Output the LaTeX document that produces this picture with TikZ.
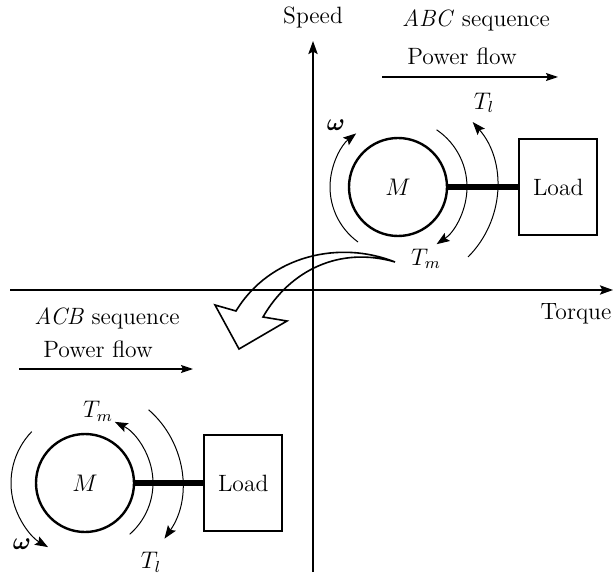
\documentclass[tikz,border=0pt]{standalone}
\usepackage{amsmath,amssymb}
\usepackage{xcolor}
\usepackage{tikz}
\usetikzlibrary{arrows.meta, positioning}

\begin{document}
\begin{tikzpicture}[
      x=0.5pt, y=-0.5pt,
      font=\fontsize{11.8}{14}\selectfont,
      motor/.style={draw, circle, line width=1.2pt, minimum size=49pt, inner sep=0pt},
      loadbox/.style={draw, line width=1pt, minimum width=39pt, minimum height=48pt, inner sep=0pt},
      axis/.style={line width=1pt, -{Stealth[length=6.5pt, width=4.6pt, inset=1.2pt]}},
      flow/.style={line width=0.6pt, -{Stealth[length=6pt, width=4pt, inset=1pt]}},
      turn/.style={line width=0.5pt, -{Stealth[length=6.5pt, width=4.8pt, inset=1.2pt]}},
      shaft/.style={line width=2.6pt},
      bigarrow/.style={line width=0.8pt, line join=miter}
    ]
    \useasboundingbox (0,0) rectangle (614,582);

    % axes
    \coordinate (ybot) at (313,572);
    \coordinate (ytop) at (313,41);
    \coordinate (xleft) at (10,290);
    \coordinate (xright) at (613,290);
    \draw[axis] (ybot) -- (ytop);
    \draw[axis] (xleft) -- (xright);
    \node (speed) at (313,17) {Speed};
    \node (torque) at (576,314) {Torque};

    % ABC sequence (upper right)
    \node (abc) at (476,20) {\textit{ABC} sequence};
    \node (pf1) at (462,56) {Power flow};
    \coordinate (pf1a) at (382,77);
    \coordinate (pf1b) at (558,77);
    \draw[flow] (pf1a) -- (pf1b);
    \node[motor] (m1) at (398,187) {$M$};
    \node[loadbox, right=35pt of m1] (load1) {Load};
    \draw[shaft] (m1) -- (load1);
    \draw[turn] (m1.center) ++(234:34pt) arc[start angle=234, end angle=128, radius=34pt];
    \draw[turn] (m1.center) ++(56:34.5pt) arc[start angle=56, end angle=-56, radius=34.5pt];
    \draw[turn] (m1.center) ++(-45:49.5pt) arc[start angle=-45, end angle=41, radius=49.5pt];
    \node (w1) at (336,125) {$\boldsymbol{\omega}$};
    \node (tl1) at (484,103) {$T_l$};
    \node (tm1) at (426,259) {$T_m$};

    % ACB sequence (lower left)
    \node (acb) at (107,318) {\textit{ACB} sequence};
    \node (pf2) at (98,349) {Power flow};
    \coordinate (pf2a) at (19,369);
    \coordinate (pf2b) at (193,369);
    \draw[flow] (pf2a) -- (pf2b);
    \node[motor] (m2) at (85,483) {$M$};
    \node[loadbox, right=34pt of m2] (load2) {Load};
    \draw[shaft] (m2) -- (load2);
    \draw[turn] (m2.center) ++(136:37pt) arc[start angle=136, end angle=240, radius=37pt];
    \draw[turn] (m2.center) ++(-49:34pt) arc[start angle=-49, end angle=64, radius=34pt];
    \draw[turn] (m2.center) ++(49:48.5pt) arc[start angle=49, end angle=-35, radius=48.5pt];
    \node (w2) at (22,544) {$\boldsymbol{\omega}$};
    \node (tm2) at (98,411) {$T_m$};
    \node (tl2) at (151,562) {$T_l$};

    % hollow arrow from ABC to ACB
    \draw[bigarrow] (395,262) .. controls (340,240) and (270,255) .. (236,311)
      -- (215,305) -- (239,349) -- (287,321) -- (263,317)
      .. controls (290,270) and (340,246) .. (395,262) -- cycle;
  \end{tikzpicture}
\end{document}
